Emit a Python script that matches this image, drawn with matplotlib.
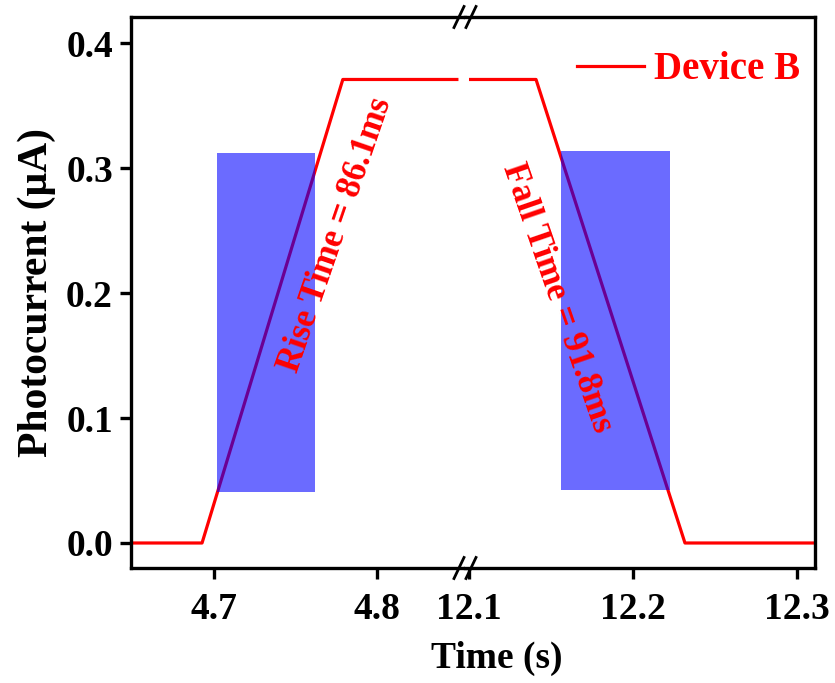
import matplotlib.pyplot as plt
from matplotlib.patches import Rectangle

plt.rcParams["font.family"] = ["Liberation Serif", "DejaVu Serif"]
plt.rcParams["font.weight"] = "bold"

# ================================
# Data (two time windows of one on/off cycle)
# ================================
t_rise = [4.649, 4.6926, 4.779, 4.849]
i_rise = [0.0, 0.0, 0.371, 0.371]
t_fall = [12.101, 12.1409, 12.2317, 12.311]
i_fall = [0.371, 0.371, 0.0, 0.0]

# shaded 10%-90% windows: (x0, x1, y0, y1)
rise_box = (4.702, 4.762, 0.041, 0.312)
fall_box = (12.156, 12.2226, 0.0424, 0.3136)

rise_label = "Rise Time = 86.1ms"
fall_label = "Fall Time = 91.8ms"

left_ticks = [4.7, 4.8]
right_ticks = [12.1, 12.2, 12.3]
y_ticks = [0.0, 0.1, 0.2, 0.3, 0.4]

# ================================
# Figure with broken x axis
# ================================
fig = plt.figure(figsize=(8.35, 6.83), dpi=100)
ax1 = fig.add_axes([0.1569, 0.1684, 0.4, 0.8067])
ax2 = fig.add_axes([0.5569, 0.1684, 0.4192, 0.8067])

ax1.plot(t_rise, i_rise, color="red", lw=2.3, label="Device B", zorder=2)
ax2.plot(t_fall, i_fall, color="red", lw=2.3, zorder=2)

for ax, box in ((ax1, rise_box), (ax2, fall_box)):
    x0, x1, y0, y1 = box
    ax.add_patch(Rectangle((x0, y0), x1 - x0, y1 - y0, facecolor="blue",
                           edgecolor="none", alpha=0.58, zorder=3))

ax1.set_xlim(4.649, 4.854)
ax2.set_xlim(12.0976, 12.311)
for ax in (ax1, ax2):
    ax.set_ylim(-0.02, 0.421)
    for s in ax.spines.values():
        s.set_linewidth(2.4)
    ax.tick_params(direction="out", length=8, width=2.4, labelsize=27, pad=5)
    ax.tick_params(axis="x", pad=9)

ax1.spines["right"].set_visible(False)
ax2.spines["left"].set_visible(False)
ax2.tick_params(axis="y", left=False, labelleft=False)

ax1.set_xticks(left_ticks)
ax1.set_xticklabels([f"{v:.1f}" for v in left_ticks])
ax2.set_xticks(right_ticks)
ax2.set_xticklabels([f"{v:.1f}" for v in right_ticks])
ax1.set_yticks(y_ticks)
ax1.set_yticklabels([f"{v:.1f}" for v in y_ticks])

ax1.set_ylabel("Photocurrent (μA)", fontsize=30, fontweight="bold", labelpad=7)
fig.text(497 / 835, 1 - 658 / 683, "Time (s)", fontsize=27, fontweight="bold",
         ha="center", va="center")

ax1.text(4.7745, 0.2464, rise_label, color="red", fontsize=25, fontweight="bold",
         rotation=71, ha="center", va="center", rotation_mode="anchor")
ax2.text(12.1537, 0.196, fall_label, color="red", fontsize=25, fontweight="bold",
         rotation=-71, ha="center", va="center", rotation_mode="anchor")

# break marks on top and bottom spines
for by in (1 - 17 / 683, 1 - 568 / 683):
    for bx in (459 / 835, 471 / 835):
        fig.add_artist(plt.Line2D([bx - 0.006, bx + 0.006],
                                  [by - 0.0154, by + 0.0154],
                                  color="black", lw=2.0, transform=fig.transFigure))

leg = ax2.legend(*ax1.get_legend_handles_labels(), loc="center right",
                 bbox_to_anchor=(0.957, 0.904), frameon=False, fontsize=28,
                 handlelength=1.72, handletextpad=0.25, borderpad=0,
                 borderaxespad=0)
for txt in leg.get_texts():
    txt.set_color("red")

fig.savefig("out.png", dpi=100)
